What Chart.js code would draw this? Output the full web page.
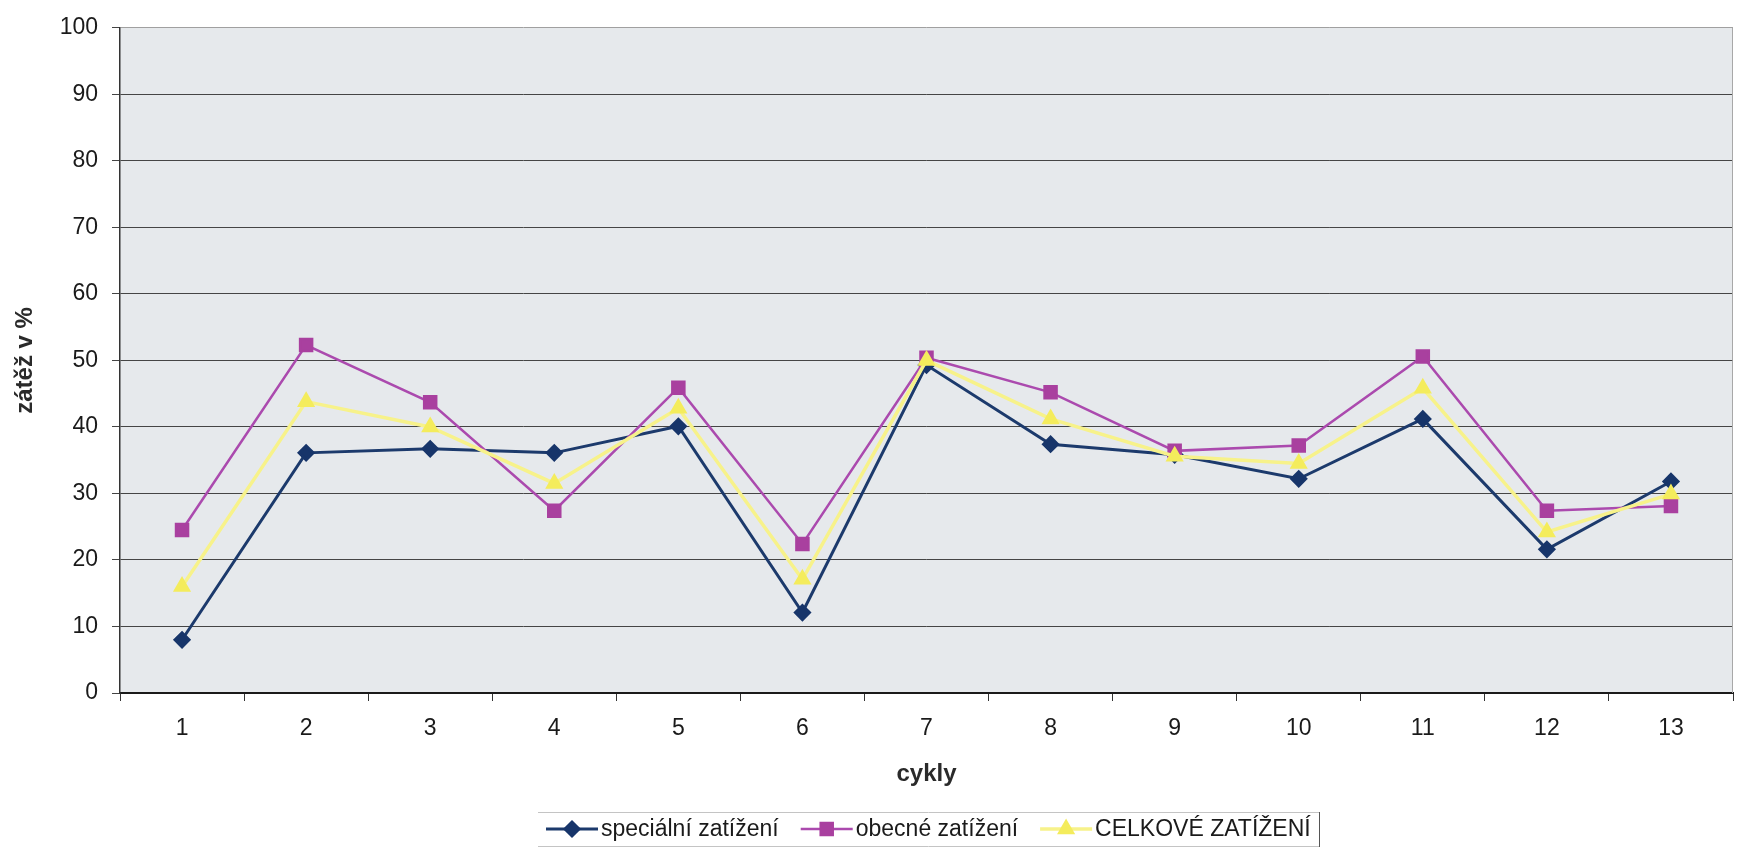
<!DOCTYPE html>
<html>
<head>
<meta charset="utf-8">
<script src="https://cdn.jsdelivr.net/npm/chart.js@4.4.1/dist/chart.umd.min.js"></script>
<style>
  * { margin: 0; padding: 0; box-sizing: border-box; }
  body { background: #fff; width: 1744px; height: 868px; overflow: hidden; }
</style>
</head>
<body>
<canvas id="chart" width="1744" height="868"></canvas>
<script>
// cykly 1..13
const cycles = ['1', '2', '3', '4', '5', '6', '7', '8', '9', '10', '11', '12', '13'];
// zátěž v %
const specialLoad = [8.0, 36.1, 36.7, 36.1, 40.1, 12.1, 49.3, 37.4, 35.8, 32.2, 41.2, 21.6, 31.8];
const generalLoad = [24.5, 52.3, 43.7, 27.4, 45.9, 22.4, 50.4, 45.2, 36.4, 37.2, 50.6, 27.4, 28.1];
const totalLoad = [16.0, 43.8, 40.0, 31.5, 42.8, 17.1, 50.0, 41.2, 35.6, 34.5, 45.8, 24.2, 29.9];
const seriesNames = ['speciální zatížení', 'obecné zatížení', 'CELKOVÉ ZATÍŽENÍ'];
const yMin = 0, yMax = 100, yStep = 10;

const FONT = '"Liberation Sans", Arial, sans-serif';

// pozadí plochy grafu + pravý okraj
const plotBackground = {
  id: 'plotBackground',
  beforeDraw(chart) {
    const {ctx, chartArea: a} = chart;
    ctx.save();
    ctx.fillStyle = '#e6e9ec';
    ctx.fillRect(a.left, a.top, a.right - a.left, a.bottom - a.top);
    ctx.restore();
  },
  afterDraw(chart) {
    const {ctx, chartArea: a} = chart;
    ctx.save();
    ctx.strokeStyle = '#a8a8a8';
    ctx.lineWidth = 1;
    ctx.beginPath();
    ctx.moveTo(a.right - 0.5, a.top);
    ctx.lineTo(a.right - 0.5, a.bottom);
    ctx.stroke();
    ctx.restore();
  }
};

// legenda ve stylu Excelu (čára + značka)
const excelLegend = {
  id: 'excelLegend',
  afterDraw(chart) {
    const ctx = chart.ctx;
    const cy = 829;
    const startX = 546;
    const lineLen = 52;
    const textGap = 3;
    const itemGap = 22;
    ctx.save();
    ctx.font = '23px ' + FONT;
    ctx.textBaseline = 'middle';
    ctx.textAlign = 'left';
    let x = startX;
    chart.data.datasets.forEach(ds => {
      ctx.strokeStyle = ds.borderColor;
      ctx.lineWidth = ds.borderWidth;
      ctx.beginPath();
      ctx.moveTo(x, cy);
      ctx.lineTo(x + lineLen, cy);
      ctx.stroke();
      ctx.fillStyle = ds.pointBackgroundColor;
      ctx.strokeStyle = ds.pointBorderColor;
      Chart.helpers.drawPoint(ctx, {
        pointStyle: ds.pointStyle,
        radius: ds.pointRadius,
        rotation: 0,
        borderWidth: 1
      }, x + lineLen / 2, cy);
      ctx.fillStyle = '#1a1a1a';
      ctx.fillText(ds.label, x + lineLen + textGap, cy + 1);
      x += lineLen + textGap + ctx.measureText(ds.label).width + itemGap;
    });
    // rámeček legendy
    const right = Math.round(x - itemGap + 8), left = 538, top = 812, bottom = 846;
    ctx.lineWidth = 1;
    ctx.strokeStyle = '#c4c4c4';
    ctx.beginPath();
    ctx.moveTo(left, top + 0.5); ctx.lineTo(right, top + 0.5);
    ctx.moveTo(left, bottom + 0.5); ctx.lineTo(right, bottom + 0.5);
    ctx.stroke();
    ctx.strokeStyle = '#555';
    ctx.beginPath();
    ctx.moveTo(right + 0.5, top); ctx.lineTo(right + 0.5, bottom + 1);
    ctx.stroke();
    ctx.restore();
  }
};

const ctx = document.getElementById('chart');

new Chart(ctx, {
  type: 'line',
  data: {
    labels: cycles,
    datasets: [
      {
        label: seriesNames[0],
        data: specialLoad,
        borderColor: '#1c3a6c',
        borderWidth: 3,
        pointStyle: 'rectRot',
        pointRadius: 7,
        pointBackgroundColor: '#17356a',
        pointBorderColor: '#17356a',
        order: 3
      },
      {
        label: seriesNames[1],
        data: generalLoad,
        borderColor: '#ab4aae',
        borderWidth: 2.5,
        pointStyle: 'rect',
        pointRadius: 8.5,
        pointBackgroundColor: '#a9409f',
        pointBorderColor: '#a9409f',
        order: 2
      },
      {
        label: seriesNames[2],
        data: totalLoad,
        borderColor: '#f7f28a',
        borderWidth: 3.5,
        pointStyle: 'triangle',
        pointRadius: 7,
        pointBackgroundColor: '#f4ec5c',
        pointBorderColor: '#f4ec5c',
        order: 1
      }
    ]
  },
  options: {
    responsive: false,
    animation: false,
    devicePixelRatio: 1,
    layout: {
      padding: {top: 22, right: 1, left: 0, bottom: 0}
    },
    elements: {
      line: {tension: 0},
      point: {borderWidth: 1}
    },
    plugins: {
      legend: {display: false},
      tooltip: {enabled: false}
    },
    scales: {
      x: {
        type: 'category',
        offset: true,
        afterFit(scale) { scale.height = 175; },
        grid: {
          offset: true,
          drawOnChartArea: false,
          drawTicks: true,
          tickLength: 8,
          color: '#333',
          lineWidth: 1
        },
        border: {display: true, color: '#1a1a1a', width: 2},
        ticks: {
          font: {family: FONT, size: 23},
          color: '#1a1a1a',
          padding: 14,
          maxRotation: 0,
          autoSkip: false
        },
        title: {
          display: true,
          text: 'cykly',
          font: {family: FONT, size: 24, weight: 'bold'},
          color: '#2a2a2a',
          padding: {top: 0, bottom: 79}
        }
      },
      y: {
        min: yMin,
        max: yMax,
        afterFit(scale) { scale.width = 120; },
        grid: {
          drawTicks: true,
          tickLength: 8,
          color: c => (c.tick && c.tick.value === yMax) ? '#a0a0a0' : '#454545',
          tickColor: '#444',
          lineWidth: 1
        },
        border: {display: true, color: '#333', width: 1.5},
        ticks: {
          stepSize: yStep,
          font: {family: FONT, size: 23},
          color: '#1a1a1a',
          padding: 14
        },
        title: {
          display: true,
          text: 'zátěž v %',
          font: {family: FONT, size: 24, weight: 'bold'},
          color: '#2a2a2a',
          padding: {top: 11, bottom: 0}
        }
      }
    }
  },
  plugins: [plotBackground, excelLegend]
});
</script>
</body>
</html>
